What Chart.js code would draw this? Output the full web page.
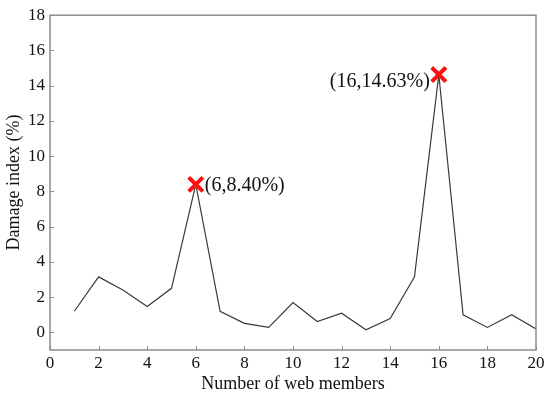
<!DOCTYPE html>
<html>
<head>
<meta charset="utf-8">
<script src="https://cdn.jsdelivr.net/npm/chart.js@4/dist/chart.umd.min.js"></script>
<style>
    html, body { margin: 0; padding: 0; background: #fff; }
    #wrap { width: 550px; height: 396px; }
</style>
</head>
<body>
<div id="wrap"><canvas id="damage-chart"></canvas></div>
<script>
"use strict";

var members = [1, 2, 3, 4, 5, 6, 7, 8, 9, 10, 11, 12, 13, 14, 15, 16, 17, 18, 19, 20];
var damage = [1.2, 3.15, 2.4, 1.47, 2.5, 8.40, 1.19, 0.51, 0.28, 1.69, 0.62, 1.09, 0.15, 0.79, 3.16, 14.63, 1.0, 0.28, 1.0, 0.19];
var peakX = [6, 16];
var peakY = [8.40, 14.63];
var peakLabels = ['(6,8.40%)', '(16,14.63%)'];
var xTicks = [0, 2, 4, 6, 8, 10, 12, 14, 16, 18, 20];
var yTicks = [0, 2, 4, 6, 8, 10, 12, 14, 16, 18];

var axisGray = '#8c8c8c';
var serif = "Liberation Serif";

Chart.defaults.font.family = serif;
Chart.defaults.color = '#111';

// frame box + inward ticks + peak labels
var framePlugin = {
    id: 'frame',
    afterDatasetsDraw: function(chart){
        var ctx = chart.ctx;
        var a = chart.chartArea;
        var xs = chart.scales.x, ys = chart.scales.y;
        ctx.save();
        ctx.strokeStyle = axisGray;
        ctx.lineWidth = 1.5;
        ctx.strokeRect(a.left, a.top, a.right - a.left, a.bottom - a.top);
        ctx.lineWidth = 1;
        ctx.beginPath();
        xTicks.forEach(function(v){
            var px = Math.round(xs.getPixelForValue(v)) + 0.5;
            ctx.moveTo(px, a.bottom);
            ctx.lineTo(px, a.bottom - 4);
        });
        yTicks.forEach(function(v){
            var py = Math.round(ys.getPixelForValue(v)) + 0.5;
            ctx.moveTo(a.left, py);
            ctx.lineTo(a.left + 4, py);
        });
        ctx.stroke();

        ctx.fillStyle = '#111';
        ctx.font = "20px " + serif;
        ctx.textBaseline = 'middle';
        for (var i = 0; i < peakX.length; i++) {
            var px2 = xs.getPixelForValue(peakX[i]);
            var py2 = ys.getPixelForValue(peakY[i]);
            if (i == 0) {
                ctx.textAlign = 'left';
                ctx.fillText(peakLabels[i], px2 + 9, py2 + 1);
            } else {
                ctx.textAlign = 'right';
                ctx.fillText(peakLabels[i], px2 - 9, py2 + 7);
            }
        }
        ctx.restore();
    }
};

var ctx = document.getElementById('damage-chart').getContext('2d');
new Chart(ctx, {
    type: 'line',
    data: {
        datasets: [{
            label: 'Damage index',
            data: members.map(function(m, i){ return {x: m, y: damage[i]}; }),
            borderColor: '#3a3a3a',
            borderWidth: 1.2,
            pointRadius: 0,
            tension: 0,
            fill: false,
            order: 2
        }, {
            label: 'Peaks',
            data: peakX.map(function(m, i){ return {x: m, y: peakY[i]}; }),
            showLine: false,
            pointStyle: 'crossRot',
            pointRadius: 10,
            pointBorderWidth: 4,
            pointBorderColor: '#ff1010',
            order: 1
        }]
    },
    options: {
        responsive: true,
        maintainAspectRatio: false,
        animation: false,
        layout: {
            padding: {left: 0, top: 13, right: 12, bottom: 0}
        },
        plugins: {
            legend: { display: false },
            tooltip: { enabled: false }
        },
        scales: {
            x: {
                type: 'linear',
                min: 0,
                max: 20,
                afterBuildTicks: function(scale){
                    scale.ticks = xTicks.map(function(v){ return {value: v}; });
                },
                afterFit: function(scale){ scale.height = 46; },
                grid: { display: true, drawOnChartArea: false, drawTicks: false },
                border: { display: false },
                ticks: {
                    padding: 3,
                    maxRotation: 0,
                    font: { family: serif, size: 17 }
                },
                title: {
                    display: true,
                    text: 'Number of web members',
                    padding: { top: 0, bottom: 1 },
                    font: { family: serif, size: 18 }
                }
            },
            y: {
                type: 'linear',
                min: -1,
                max: 18,
                afterBuildTicks: function(scale){
                    scale.ticks = yTicks.map(function(v){ return {value: v}; });
                },
                afterFit: function(scale){ scale.width = 50; },
                grid: { display: true, drawOnChartArea: false, drawTicks: false },
                border: { display: false },
                ticks: {
                    padding: 5,
                    font: { family: serif, size: 17 }
                },
                title: {
                    display: true,
                    text: 'Damage index (%)',
                    padding: { top: 3, bottom: 0 },
                    font: { family: serif, size: 18 }
                }
            }
        }
    },
    plugins: [framePlugin]
});
</script>
</body>
</html>
